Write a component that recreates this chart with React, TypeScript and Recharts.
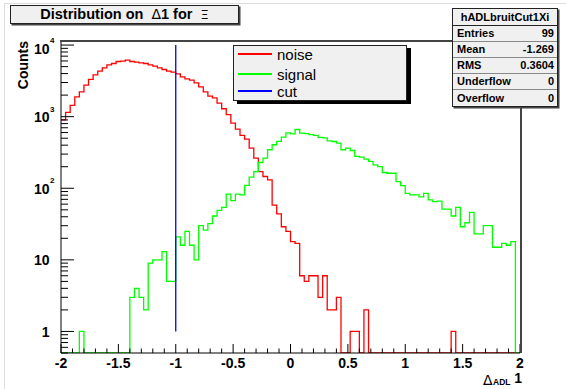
import React from 'react';
import { ComposedChart, Line, XAxis, YAxis, ReferenceLine } from 'recharts';

// 100 bins between -2 and 2 (ROOT TH1)
const xMin = -2;
const xMax = 2;
const binWidth = 0.04;

const noiseCounts = [
  900, 1150, 1440, 1890, 2220, 2750, 3320, 3840, 4320, 4790,
  5300, 5530, 5900, 5960, 6160, 5900, 5770, 5640, 5530, 5300,
  5080, 4790, 4560, 4320, 4180, 3960, 3600, 3370, 3230, 2960,
  2600, 2220, 1930, 1830, 1550, 1290, 1070, 815, 671, 547,
  486, 363, 263, 171, 146, 131, 58, 44, 29, 25,
  18, 17, 6, 5, 6, 6, 3, 6, 2, 2,
  3, 0, 0, 1, 1, 0, 2, 0, 0, 0,
  0, 0, 0, 0, 0, 0, 0, 0, 0, 0,
  0, 0, 0, 0, 0, 1, 0, 0, 0, 0,
  0, 0, 0, 0, 0, 0, 0, 0, 0, 0,
];

const signalCounts = [
  0, 0, 0, 0, 1, 0, 0, 0, 0, 0,
  0, 0, 0, 0, 0, 3, 4, 3, 2, 9,
  10, 10, 13, 5, 5, 21, 16, 25, 16, 10,
  30, 26, 32, 41, 49, 54, 83, 67, 83, 81,
  110, 143, 171, 229, 264, 345, 405, 451, 519, 593,
  575, 662, 590, 580, 560, 547, 514, 505, 460, 450,
  427, 345, 363, 337, 278, 272, 255, 237, 212, 201,
  166, 162, 162, 124, 109, 85, 81, 81, 76, 85,
  69, 65, 66, 51, 51, 41, 54, 29, 33, 46,
  23, 23, 30, 30, 15, 15, 17, 16, 18, 0,
];

const cutX = -1;
const cutRange = [1, 10000];

const series = [
  { key: 'noise', name: 'noise', color: '#ff0000' },
  { key: 'signal', name: 'signal', color: '#00ff00' },
  { key: 'cut', name: 'cut', color: '#0000ff' },
];

const statsTitle = 'hADLbruitCut1Xi';
const statsRows = [
  ['Entries', '99'],
  ['Mean', '-1.269'],
  ['RMS', '0.3604'],
  ['Underflow', '0'],
  ['Overflow', '0'],
];

const yMin = 0.5;
const yMax = 11400;
const yDecades = [0.1, 1, 10, 100, 1000];
const yMantissas = [1, 2, 3, 4, 5, 6, 7, 8, 9];
const yTicks = yDecades
  .flatMap((d) => yMantissas.map((m) => d * m))
  .filter((v) => v >= yMin)
  .concat([10000]);
const xTicks = Array.from({ length: 41 }, (_, i) => Math.round((xMin + i * 0.1) * 10) / 10);

// bin edges -> step points, empty bins sit on the axis floor of the log scale
const table = Array.from({ length: noiseCounts.length + 1 }, (_, i) => {
  const j = Math.min(i, noiseCounts.length - 1);
  return {
    x: Math.round((xMin + i * binWidth) * 100) / 100,
    noise: Math.max(noiseCounts[j], yMin),
    signal: Math.max(signalCounts[j], yMin),
  };
});

const FONT = '"Liberation Sans", Arial, Helvetica, sans-serif';

function XTick(props: any) {
  const { x, y, payload } = props;
  const v = payload.value;
  const major = Math.abs(v * 2 - Math.round(v * 2)) < 1e-6;
  return (
    <g>
      <line x1={x} x2={x} y1={y} y2={y - (major ? 9 : 4.5)} stroke="#000" />
      {major && (
        <text x={x} y={y + 14.5} textAnchor="middle" fontFamily={FONT} fontWeight="bold" fontSize={14} fill="#000">
          {String(Math.round(v * 10) / 10)}
        </text>
      )}
    </g>
  );
}

function YTick(props: any) {
  const { x, y, payload } = props;
  const e = Math.log10(payload.value);
  const n = Math.round(e);
  const major = Math.abs(e - n) < 1e-6;
  const dy = n === 4 ? 3 : 0;
  return (
    <g>
      <line x1={x} x2={x + (major ? 13 : 7)} y1={y} y2={y} stroke="#000" />
      {major && (
        <text x={x - 11.5} y={y + 5.5 + dy} textAnchor="end" fontFamily={FONT} fontWeight="bold" fontSize={14} fill="#000">
          {n === 0 ? '1' : '10'}
        </text>
      )}
      {major && n >= 2 && (
        <text x={x - 11} y={y - 5 + dy} fontFamily={FONT} fontWeight="bold" fontSize={8} fill="#000">
          {n}
        </text>
      )}
    </g>
  );
}

const boxStyle: React.CSSProperties = {
  position: 'absolute',
  background: '#f0f0f0',
  border: '1px solid #222',
  boxSizing: 'border-box',
};

export default function App() {
  const legendRowY = [8, 28, 45];
  return (
    <div style={{ position: 'fixed', left: 0, top: 0, width: 566, height: 389, background: '#fff', overflow: 'hidden', fontFamily: FONT }}>
      <div style={{ position: 'absolute', left: 4, top: 3, right: 0, bottom: 0, borderLeft: '1px solid #ddd', borderTop: '1px solid #ddd' }} />
      <div style={{ position: 'absolute', left: 0, top: 0 }}>
        <ComposedChart width={566} height={389} data={table} margin={{ top: 41, right: 46, bottom: 0, left: 0 }}>
          <XAxis
            type="number"
            dataKey="x"
            domain={[xMin, xMax]}
            ticks={xTicks}
            interval={0}
            height={36}
            tickSize={0}
            tickMargin={0}
            tickLine={false}
            axisLine={{ stroke: '#000' }}
            tick={(p: any) => <XTick {...p} />}
            allowDataOverflow
          />
          <YAxis
            type="number"
            scale="log"
            domain={[yMin, yMax]}
            ticks={yTicks}
            interval={0}
            width={61}
            tickSize={0}
            tickMargin={0}
            tickLine={false}
            axisLine={{ stroke: '#000' }}
            tick={(p: any) => <YTick {...p} />}
            allowDataOverflow
          />
          <Line dataKey="noise" type="stepAfter" stroke={series[0].color} strokeWidth={1.3} dot={false} isAnimationActive={false} />
          <Line dataKey="signal" type="stepAfter" stroke={series[1].color} strokeWidth={1.3} dot={false} isAnimationActive={false} />
          <ReferenceLine
            segment={[{ x: cutX, y: cutRange[0] }, { x: cutX, y: cutRange[1] }]}
            stroke={series[2].color}
            strokeWidth={1.3}
            ifOverflow="visible"
          />
        </ComposedChart>
      </div>

      <svg width={566} height={389} style={{ position: 'absolute', left: 0, top: 0, pointerEvents: 'none' }}>
        <line x1={60} x2={522} y1={41} y2={41} stroke="#444" strokeWidth={2} />
        <line x1={521} x2={521} y1={40} y2={353} stroke="#444" strokeWidth={2} />
        <text transform="rotate(-90 28 41)" x={28} y={41} textAnchor="end" fontFamily={FONT} fontWeight="bold" fontSize={14} fill="#000">
          Counts
        </text>
        <text x={483} y={385} fontFamily='"DejaVu Sans", sans-serif' fontSize={14} fill="#000">Δ</text>
        <text x={493} y={385} fontFamily={FONT} fontWeight="bold" fontSize={8.5} fill="#000">ADL</text>
        <text x={522} y={383} textAnchor="end" fontFamily={FONT} fontWeight="bold" fontSize={14} fill="#000">1</text>
      </svg>

      <div style={{ ...boxStyle, left: 10, top: 5, width: 229, height: 19, boxShadow: '1.5px 1.5px 0 #444', textAlign: 'center', fontWeight: 'bold', fontSize: 14.5, lineHeight: '17px', whiteSpace: 'pre' }}>
        {'Distribution on  '}
        <span style={{ fontWeight: 'normal', fontFamily: '"DejaVu Sans", sans-serif', fontSize: 14 }}>Δ</span>
        {'1 for  '}
        <span style={{ fontWeight: 'normal', fontFamily: '"DejaVu Sans", sans-serif', fontSize: 13 }}>Ξ</span>
      </div>

      <div style={{ ...boxStyle, left: 233, top: 45, width: 174, height: 56, boxShadow: '4px 3px 0 #000' }}>
        {series.map((s, i) => (
          <div key={s.key} style={{ position: 'absolute', left: 0, top: legendRowY[i] - 9, height: 18, display: 'flex', alignItems: 'center' }}>
            <div style={{ marginLeft: 4, width: 34, height: 1.3, background: s.color }} />
            <span style={{ marginLeft: 5, fontSize: 15, color: '#000' }}>{s.name}</span>
          </div>
        ))}
      </div>

      <div style={{ ...boxStyle, left: 452, top: 8, width: 106, height: 99, boxShadow: '1.5px 1.5px 0 #444', fontWeight: 'bold', fontSize: 11 }}>
        <div style={{ height: 16, lineHeight: '16px', textAlign: 'center', borderBottom: '1px solid #222' }}>{statsTitle}</div>
        {statsRows.map(([k, v], i) => {
          const last = i === statsRows.length - 1;
          return (
            <div
              key={k}
              style={{
                height: last ? 16 : 15,
                lineHeight: last ? '16px' : '15px',
                display: 'flex',
                justifyContent: 'space-between',
                padding: '0 3px 0 4px',
                borderBottom: last ? 'none' : '1px solid #888',
              }}
            >
              <span>{k}</span>
              <span>{v}</span>
            </div>
          );
        })}
      </div>
    </div>
  );
}
